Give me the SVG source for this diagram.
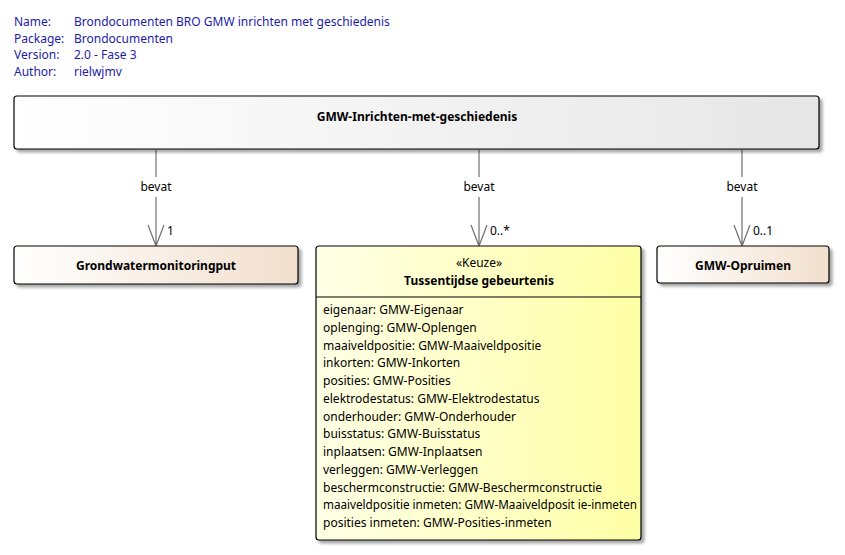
<svg xmlns="http://www.w3.org/2000/svg" width="845" height="555" viewBox="0 0 845 555">
<defs>
<linearGradient id="gGray" x1="0" y1="0" x2="1" y2="0"><stop offset="0" stop-color="#ffffff"/><stop offset="1" stop-color="#e6e6e6"/></linearGradient>
<linearGradient id="gPeach" x1="0" y1="0" x2="1" y2="0"><stop offset="0" stop-color="#ffffff"/><stop offset="1" stop-color="#f2dfcd"/></linearGradient>
<linearGradient id="gYellow" x1="0" y1="0" x2="1" y2="0"><stop offset="0" stop-color="#ffffe6"/><stop offset="1" stop-color="#ffffa6"/></linearGradient>
<filter id="sh" x="-5%" y="-5%" width="115%" height="130%"><feGaussianBlur in="SourceAlpha" stdDeviation="1.5"/><feOffset dx="3" dy="3"/><feComponentTransfer><feFuncA type="linear" slope="0.35"/></feComponentTransfer><feMerge><feMergeNode/><feMergeNode in="SourceGraphic"/></feMerge></filter>
</defs>
<style>
text{font-family:"Noto Sans","Open Sans","DejaVu Sans",sans-serif;font-size:12px;fill:#000}
.hdr{fill:#1c1ca8}
.b{font-weight:bold}
.box{stroke:#000;stroke-width:1.2}
.con{stroke:#707070;stroke-width:1.2;fill:none}
.lbl{fill:#000}
.mul{fill:#000}
.mid{text-anchor:middle}
</style>
<rect width="845" height="555" fill="#ffffff"/>
<g id="header">
<text class="hdr" x="14" y="26">Name:</text><text class="hdr" x="74" y="26">Brondocumenten BRO GMW inrichten met geschiedenis</text>
<text class="hdr" x="14" y="43">Package:</text><text class="hdr" x="74" y="43">Brondocumenten</text>
<text class="hdr" x="14" y="59">Version:</text><text class="hdr" x="74" y="59">2.0 - Fase 3</text>
<text class="hdr" x="14" y="76">Author:</text><text class="hdr" x="74" y="76">rielwjmv</text>
</g>
<g id="connectors">
<path class="con" d="M156,150 V177 M156,197 V246 M148,225 L156,246 L164,225"/>
<text class="lbl mid" x="156" y="191">bevat</text>
<text class="mul" x="167" y="235">1</text>
<path class="con" d="M479,150 V177 M479,197 V246 M471,225 L479,246 L487,225"/>
<text class="lbl mid" x="479" y="191">bevat</text>
<text class="mul" x="490" y="235">0..*</text>
<path class="con" d="M742,150 V177 M742,197 V246 M734,225 L742,246 L750,225"/>
<text class="lbl mid" x="742" y="191">bevat</text>
<text class="mul" x="753" y="235">0..1</text>
</g>
<g id="GMW-Inrichten-met-geschiedenis">
<rect class="box" x="14" y="96" width="805" height="53" rx="3" fill="url(#gGray)" filter="url(#sh)"/>
<text class="b mid" x="417" y="121">GMW-Inrichten-met-geschiedenis</text>
</g>
<g id="Grondwatermonitoringput">
<rect class="box" x="14" y="246" width="284" height="38" rx="3" fill="url(#gPeach)" filter="url(#sh)"/>
<text class="b mid" x="156" y="270">Grondwatermonitoringput</text>
</g>
<g id="Tussentijdse-gebeurtenis">
<rect class="box" x="316" y="246" width="325" height="294" rx="3" fill="url(#gYellow)" filter="url(#sh)"/>
<line class="box" x1="316" y1="297" x2="641" y2="297"/>
<text class="mid" x="479" y="267">«Keuze»</text>
<text class="b mid" x="479" y="285">Tussentijdse gebeurtenis</text>
<text x="323" y="314">eigenaar: GMW-Eigenaar</text>
<text x="323" y="332">oplenging: GMW-Oplengen</text>
<text x="323" y="350">maaiveldpositie: GMW-Maaiveldpositie</text>
<text x="323" y="367">inkorten: GMW-Inkorten</text>
<text x="323" y="385">posities: GMW-Posities</text>
<text x="323" y="403">elektrodestatus: GMW-Elektrodestatus</text>
<text x="323" y="421">onderhouder: GMW-Onderhouder</text>
<text x="323" y="438">buisstatus: GMW-Buisstatus</text>
<text x="323" y="456">inplaatsen: GMW-Inplaatsen</text>
<text x="323" y="474">verleggen: GMW-Verleggen</text>
<text x="323" y="492">beschermconstructie: GMW-Beschermconstructie</text>
<text x="323" y="509" textLength="314" lengthAdjust="spacingAndGlyphs">maaiveldpositie inmeten: GMW-Maaiveldposit ie-inmeten</text>
<text x="323" y="527">posities inmeten: GMW-Posities-inmeten</text>
</g>
<g id="GMW-Opruimen">
<rect class="box" x="657" y="246" width="172" height="37" rx="3" fill="url(#gPeach)" filter="url(#sh)"/>
<text class="b mid" x="743" y="270">GMW-Opruimen</text>
</g>
</svg>
